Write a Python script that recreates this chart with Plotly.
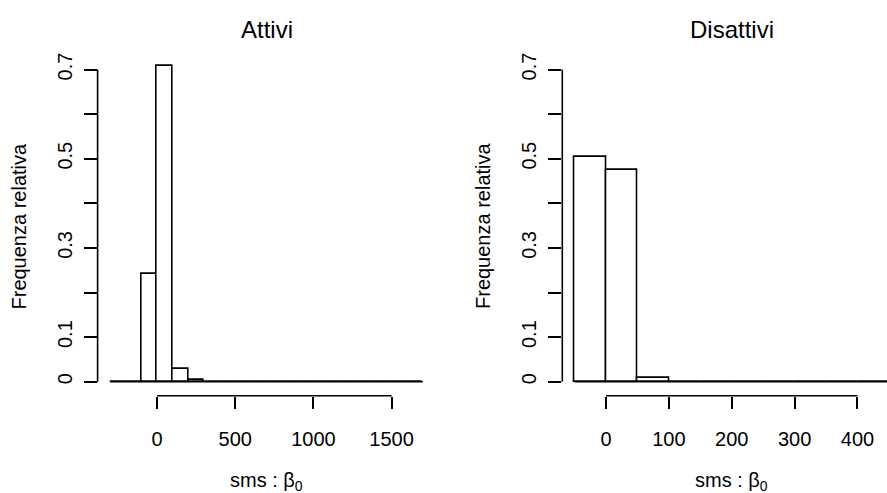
import plotly.graph_objects as go

# ---- data (relative frequencies) ----
attivi_edges = [-300, -200, -100, 0, 100, 200, 300, 400, 500, 600, 700, 800, 900,
                1000, 1100, 1200, 1300, 1400, 1500, 1600, 1700]
attivi_freq = [0.0, 0.0, 0.242, 0.709, 0.029, 0.005, 0.0, 0.0, 0.0, 0.0, 0.0, 0.0,
               0.0, 0.0, 0.0, 0.0, 0.0, 0.0, 0.0, 0.0]

disattivi_edges = [-50, 0, 50, 100, 150, 200, 250, 300, 350, 400, 450]
disattivi_freq = [0.505, 0.475, 0.009, 0.0, 0.0, 0.0, 0.0, 0.0, 0.0, 0.0]

attivi_xticks = [0, 500, 1000, 1500]
disattivi_xticks = [0, 100, 200, 300, 400]
y_labeled_ticks = [0, 0.1, 0.3, 0.5, 0.7]
y_labels = ["0", "0.1", "0.3", "0.5", "0.7"]
y_unlabeled_ticks = [0.2, 0.4, 0.6]

titles = ["Attivi", "Disattivi"]
y_title = "Frequenza relativa"
x_title = "sms : β<sub>0</sub>"

W, H = 887, 493
FONT = "Liberation Sans, Arial, sans-serif"
LW = 1.6
FS = 20

fig = go.Figure()


def add_hist(edges, freq, xa, ya):
    centers = [(edges[i] + edges[i + 1]) / 2 for i in range(len(freq))]
    widths = [edges[i + 1] - edges[i] for i in range(len(freq))]
    fig.add_trace(go.Bar(x=centers, y=freq, width=widths, xaxis=xa, yaxis=ya,
                         marker=dict(color="white", line=dict(color="black", width=LW)),
                         showlegend=False, hoverinfo="skip"))
    fig.add_trace(go.Scatter(x=[edges[0], edges[-1]], y=[0, 0], mode="lines",
                             xaxis=xa, yaxis=ya,
                             line=dict(color="black", width=LW),
                             showlegend=False, hoverinfo="skip"))


add_hist(attivi_edges, attivi_freq, "x", "y")
add_hist(disattivi_edges, disattivi_freq, "x2", "y2")

# plot regions (pixels)
L1, R1 = 97.6, 435.4
L2, R2 = 562.3, 887.0
B, T = 395.7, 24.9
ydom = [(H - B) / H, (H - T) / H]
yrange = [-0.0314, 0.8]

xcommon = dict(showgrid=False, zeroline=False, showline=False, ticks="outside",
               ticklen=12, tickwidth=LW, tickcolor="black",
               tickfont=dict(family=FONT, size=FS, color="black"),
               ticklabelstandoff=13)
ycommon = dict(showgrid=False, zeroline=False, showline=False, ticks="outside",
               ticklen=13, tickwidth=LW, tickcolor="black",
               tickmode="array", tickvals=y_labeled_ticks, ticktext=y_labels,
               tickangle=-90,
               minor=dict(tickmode="array", tickvals=y_unlabeled_ticks, ticks="outside",
                          ticklen=13, tickwidth=LW, tickcolor="black", showgrid=False),
               tickfont=dict(family=FONT, size=FS, color="black"),
               ticklabelstandoff=4, range=yrange, domain=ydom)

fig.update_layout(
    width=W, height=H, margin=dict(l=0, r=0, t=0, b=0),
    paper_bgcolor="white", plot_bgcolor="white",
    barmode="overlay", bargap=0,
    xaxis=dict(xcommon, domain=[L1 / W, R1 / W], range=[-380, 1780],
               tickvals=attivi_xticks, anchor="y"),
    yaxis=dict(ycommon, anchor="x"),
    xaxis2=dict(xcommon, domain=[L2 / W, R2 / W], range=[-69.6, 447.0],
                tickvals=disattivi_xticks, anchor="y2"),
    yaxis2=dict(ycommon, anchor="x2"),
)

all_y = y_labeled_ticks + y_unlabeled_ticks
shapes = []
# R-style axis lines spanning only first..last tick
for xa, ticks in (("x", attivi_xticks), ("x2", disattivi_xticks)):
    shapes.append(dict(type="line", xref=xa, yref="paper",
                       x0=min(ticks), x1=max(ticks), y0=ydom[0], y1=ydom[0],
                       line=dict(color="black", width=LW)))
for ya, xl in (("y", L1), ("y2", L2)):
    shapes.append(dict(type="line", xref="paper", yref=ya,
                       x0=xl / W, x1=xl / W, y0=min(all_y), y1=max(all_y),
                       line=dict(color="black", width=LW)))
fig.update_layout(shapes=shapes)

ann = []
R2full = 901.4
centers_px = [(L1 + R1) / 2, (L2 + R2full) / 2]
for c, t in zip(centers_px, titles):
    ann.append(dict(text=t, x=c / W, y=(H - 29) / H, xref="paper", yref="paper",
                    showarrow=False, xanchor="center", yanchor="middle",
                    font=dict(family=FONT, size=24, color="black")))
    ann.append(dict(text=x_title, x=c / W, y=(H - 481) / H, xref="paper", yref="paper",
                    showarrow=False, xanchor="center", yanchor="middle",
                    font=dict(family=FONT, size=FS, color="black")))
for xp in (18.5, 483.0):
    ann.append(dict(text=y_title, x=xp / W, y=(H - 226) / H, xref="paper", yref="paper",
                    showarrow=False, xanchor="center", yanchor="middle", textangle=-90,
                    font=dict(family=FONT, size=FS, color="black")))
fig.update_layout(annotations=ann)

fig.write_html("out.html")
